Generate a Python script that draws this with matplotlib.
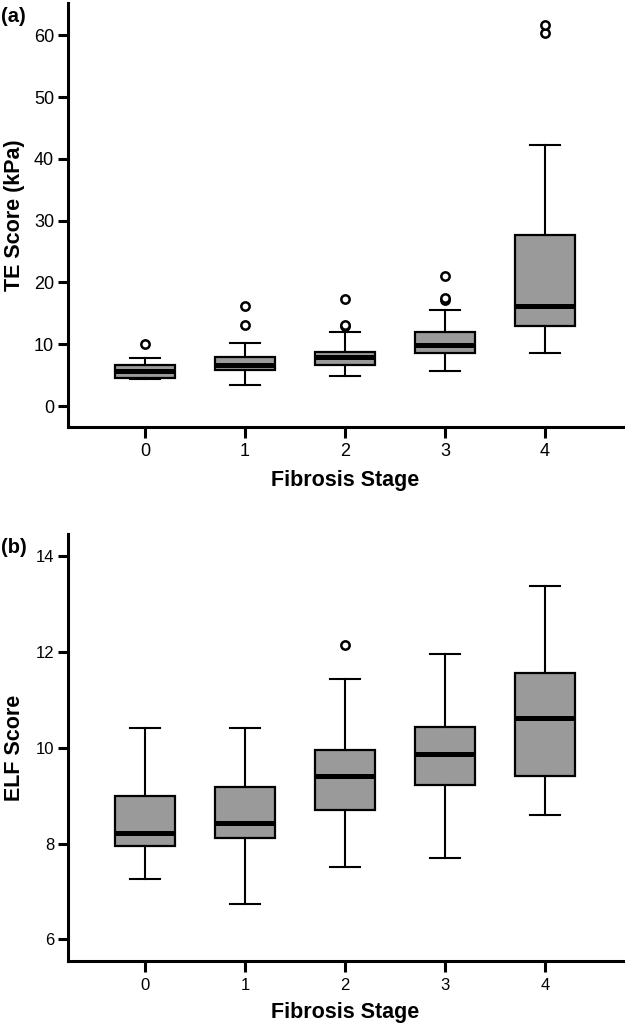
import matplotlib
matplotlib.use("Agg")
import matplotlib.pyplot as plt

plt.rcParams['font.family'] = ['Liberation Sans', 'DejaVu Sans']

stages = ["0", "1", "2", "3", "4"]

# Panel (a): TE score (kPa)
te_whislo = [4.3, 3.4, 4.85, 5.6, 8.5]
te_q1 = [4.6, 5.8, 6.7, 8.5, 12.9]
te_med = [5.7, 6.6, 8.0, 9.9, 16.2]
te_q3 = [6.6, 8.0, 8.8, 11.9, 27.7]
te_whishi = [7.8, 10.2, 11.9, 15.5, 42.2]
te_fliers = [[10.1], [13.1, 16.2], [12.9, 13.1, 17.3], [17.1, 17.4, 21.1], [60.4, 61.6]]

# Panel (b): ELF score
elf_whislo = [7.26, 6.74, 7.52, 7.69, 8.59]
elf_q1 = [7.94, 8.12, 8.70, 9.22, 9.41]
elf_med = [8.22, 8.43, 9.40, 9.87, 10.62]
elf_q3 = [8.99, 9.17, 9.96, 10.44, 11.56]
elf_whishi = [10.40, 10.41, 11.44, 11.95, 13.38]
elf_fliers = [[], [], [12.13], [], []]


def make_stats(lo, q1, med, q3, hi, fl):
    return [dict(whislo=a, q1=b, med=c, q3=d, whishi=e, fliers=f, label=s)
            for a, b, c, d, e, f, s in zip(lo, q1, med, q3, hi, fl, stages)]


fig = plt.figure(figsize=(6.25, 10.28), dpi=100)
ax1 = fig.add_axes([0.1088, 0.5849, 0.888, 0.4121])
ax2 = fig.add_axes([0.1088, 0.0652, 0.888, 0.4151])


def draw(ax, stats, ylim, yticks, ylabel, tag, tagy, ticksize):
    ax.bxp(stats, positions=range(len(stages)), widths=0.6, patch_artist=True,
           boxprops=dict(facecolor='#9a9a9a', edgecolor='black', linewidth=1.6),
           medianprops=dict(color='black', linewidth=3.6, solid_capstyle='butt'),
           whiskerprops=dict(color='black', linewidth=1.5),
           capprops=dict(color='black', linewidth=1.5),
           capwidths=0.3,
           flierprops=dict(marker='o', markerfacecolor='white', markeredgecolor='black',
                           markersize=6, markeredgewidth=1.8))
    ax.set_xlim(-0.77, 4.78)
    ax.set_ylim(*ylim)
    ax.set_yticks(yticks)
    ax.set_xticks(range(len(stages)))
    ax.set_xticklabels(stages)
    for s in ['top', 'right']:
        ax.spines[s].set_visible(False)
    for s in ['left', 'bottom']:
        ax.spines[s].set_linewidth(2.2)
    ax.tick_params(axis='y', length=7, width=2.2, labelsize=ticksize, pad=3)
    ax.tick_params(axis='x', length=8, width=2.2, labelsize=ticksize, pad=4)
    ax.set_ylabel(ylabel, fontsize=15.5, fontweight='bold')
    ax.set_xlabel("Fibrosis Stage", fontsize=15.5, fontweight='bold')
    ax.yaxis.set_label_coords(-0.077, 0.5)
    fig.text(0.002, tagy, tag, fontsize=14.5, fontweight='bold', va='center', ha='left')


draw(ax1, make_stats(te_whislo, te_q1, te_med, te_q3, te_whishi, te_fliers),
     (-3.35, 65.2), [0, 10, 20, 30, 40, 50, 60], "TE Score (kPa)", "(a)", 0.984, 13)
ax1.xaxis.set_label_coords(0.5, -0.103)

draw(ax2, make_stats(elf_whislo, elf_q1, elf_med, elf_q3, elf_whishi, elf_fliers),
     (5.55, 14.45), [6, 8, 10, 12, 14], "ELF Score", "(b)", 0.467, 12)
ax2.xaxis.set_label_coords(0.5, -0.095)

fig.savefig("out.png", dpi=100)
